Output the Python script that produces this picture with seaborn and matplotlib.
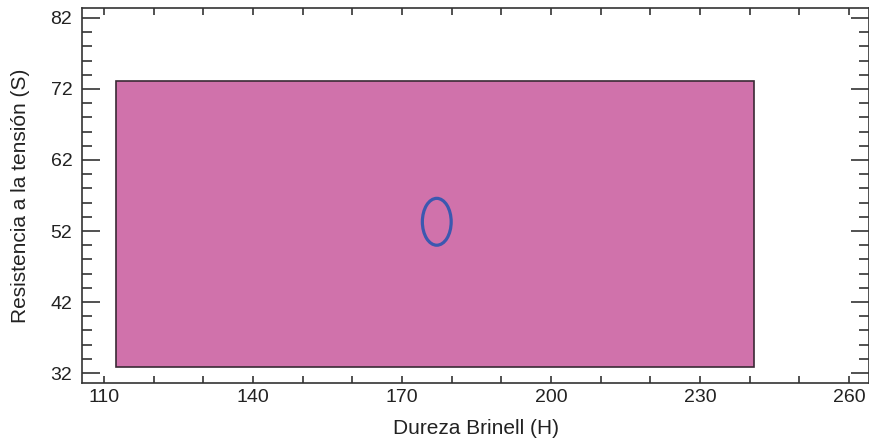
import numpy as np
import matplotlib
matplotlib.use("Agg")
import matplotlib.pyplot as plt
from matplotlib.patches import Rectangle, Ellipse
from matplotlib.ticker import MultipleLocator
import seaborn as sns

# region limits (x = hardness, y = tensile strength)
box_x = [112.4, 240.9]
box_y = [32.8, 73.1]
# ellipse centre and full width / height
ell_center = [177.0, 53.3]
ell_size = [5.8, 6.6]

x_ticks = [110, 140, 170, 200, 230, 260]
y_ticks = [32, 42, 52, 62, 72, 82]

sns.set_style("ticks")
plt.rcParams["font.family"] = ["Liberation Sans", "DejaVu Sans"]

fig = plt.figure(figsize=(8.69, 4.46), dpi=100)
ax = fig.add_axes([0.0944, 0.1413, 0.9056, 0.8407])

ax.add_patch(Rectangle((box_x[0], box_y[0]), box_x[1] - box_x[0], box_y[1] - box_y[0],
                       facecolor="#D072AB", edgecolor="#3a2a35", linewidth=1.2))
ax.add_patch(Ellipse(ell_center, ell_size[0], ell_size[1], facecolor="none",
                     edgecolor="#3B58B0", linewidth=2.3))

ax.set_xlim(105.6, 264.0)
ax.set_ylim(30.6, 83.4)
ax.set_xticks(x_ticks)
ax.set_yticks(y_ticks)
ax.xaxis.set_minor_locator(MultipleLocator(10))
ax.yaxis.set_minor_locator(MultipleLocator(2))

ax.tick_params(axis="x", which="both", direction="in", top=True, bottom=True,
               length=5, width=1.2, color="#333333", labelsize=14, pad=4,
               labelcolor="#222222")
ax.tick_params(axis="y", which="major", direction="in", left=True, right=True,
               length=13, width=1.2, color="#333333", labelsize=14, pad=7,
               labelcolor="#222222")
ax.tick_params(axis="y", which="minor", direction="in", left=True, right=True,
               length=7, width=1.2, color="#333333")
for s in ax.spines.values():
    s.set_linewidth(1.2)
    s.set_color("#333333")

ax.set_xlabel("Dureza Brinell (H)", fontsize=15, color="#222222", labelpad=10)
ax.set_ylabel("Resistencia a la tensión (S)", fontsize=15, color="#222222", labelpad=15)

fig.savefig("out.png", dpi=100)
